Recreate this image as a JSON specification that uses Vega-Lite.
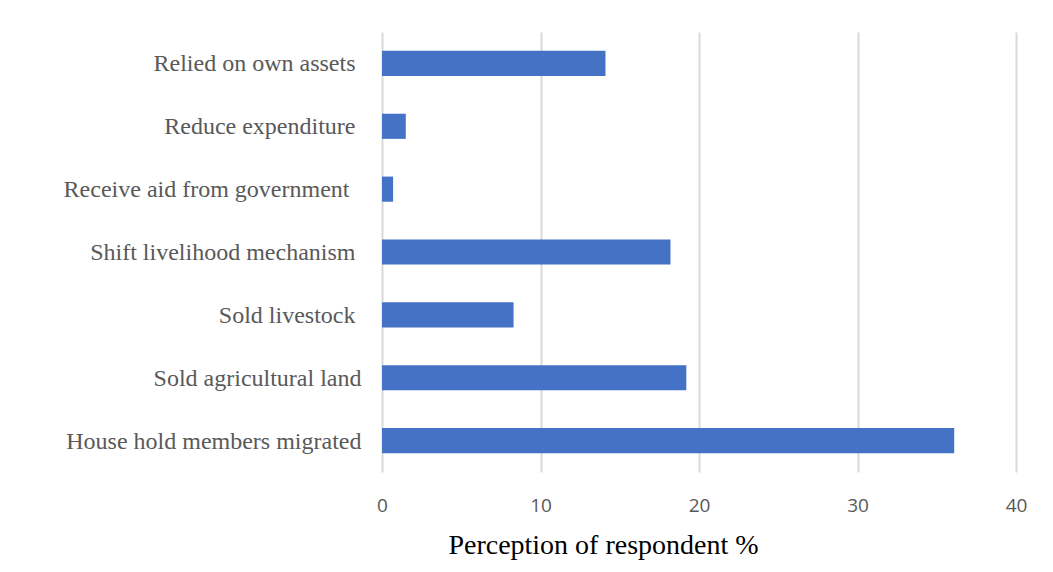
{
  "$schema": "https://vega.github.io/schema/vega-lite/v6.json",
  "autosize": {"type": "none"},
  "width": 634,
  "height": 440,
  "padding": {"left": 382, "top": 32, "right": 37, "bottom": 100},
  "background": "white",
  "config": {"view": {"stroke": null}},
  "data": {
    "values": [
      {"strategy": "Relied on own assets", "pct": 14.1},
      {"strategy": "Reduce expenditure", "pct": 1.5},
      {"strategy": "Receive aid from government", "pct": 0.7},
      {"strategy": "Shift livelihood mechanism", "pct": 18.2},
      {"strategy": "Sold livestock", "pct": 8.3},
      {"strategy": "Sold agricultural land", "pct": 19.2},
      {"strategy": "House hold members migrated", "pct": 36.1}
    ]
  },
  "mark": {"type": "bar", "color": "#4472C4"},
  "encoding": {
    "y": {
      "field": "strategy",
      "type": "nominal",
      "sort": null,
      "scale": {"paddingInner": 0.6, "paddingOuter": 0.3},
      "axis": {
        "title": null,
        "domain": false,
        "ticks": false,
        "grid": false,
        "labelFont": "Liberation Serif",
        "labelFontSize": 24,
        "labelColor": "#595959",
        "labelOffset": 1,
        "labelPadding": {
          "condition": [
            {"test": "datum.value === 'Receive aid from government'", "value": 33},
            {"test": "datum.value === 'Sold agricultural land' || datum.value === 'House hold members migrated'", "value": 21}
          ],
          "value": 27
        },
        "labelLimit": 400
      }
    },
    "x": {
      "field": "pct",
      "type": "quantitative",
      "scale": {"domain": [0, 40], "nice": false},
      "axis": {
        "values": [0, 10, 20, 30, 40],
        "title": "Perception of respondent %",
        "titleFont": "Liberation Serif",
        "titleFontSize": 28,
        "titleFontWeight": "normal",
        "titleColor": "#000000",
        "titlePadding": 16,
        "titleX": 221,
        "titleAlign": "center",
        "domain": false,
        "ticks": false,
        "grid": true,
        "gridColor": "#D9D9D9",
        "gridWidth": 2,
        "labelFlush": false,
        "labelFont": "Open Sans",
        "labelFontSize": 19,
        "labelColor": "#595959",
        "labelPadding": 24
      }
    }
  }
}
